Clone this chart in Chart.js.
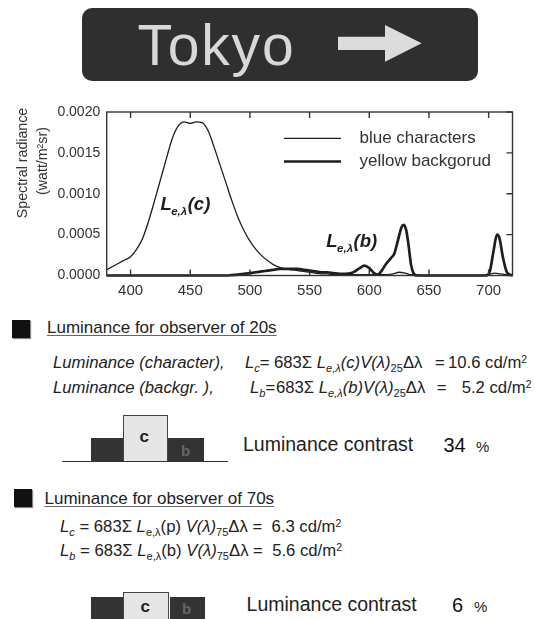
<!DOCTYPE html>
<html>
<head>
<meta charset="utf-8">
<script src="https://cdn.jsdelivr.net/npm/chart.js@4.4.1/dist/chart.umd.min.js"></script>
<style>
  html, body { margin: 0; padding: 0; background: #fff; }
  body { width: 535px; height: 619px; position: relative; overflow: hidden;
         font-family: Arial, "Liberation Sans", Helvetica, sans-serif; color: #222; }
  .abs { position: absolute; white-space: nowrap; line-height: 1; }
  #chartBox { position: absolute; left: 0; top: 0; width: 535px; height: 310px; }
  .sign { position: absolute; left: 82px; top: 8px; width: 396px; height: 73px;
          border-radius: 10px; background: #2f2f2f; }
  .sign-text { font-size: 57px; letter-spacing: 1.8px; color: #d8d8d8; left: 137.5px; top: 16.7px; }
  .bullet { position: absolute; width: 18px; height: 18px; background: #111;
            box-shadow: 1px 1px 1px #888; }
  .head { font-size: 17px; text-decoration: underline; text-decoration-color: #666;
          text-underline-offset: 2px; text-decoration-thickness: 1px; }
  .f { font-size: 16.7px; }
  sub { font-size: 0.66em; vertical-align: -0.35em; line-height: 0; }
  sup { font-size: 0.62em; vertical-align: 0.5em; line-height: 0; }
  .contrast { font-size: 19.5px; }
  .num { font-size: 20px; color: #111; }
  .pct { font-size: 15px; }
  .box { position: absolute; box-sizing: border-box; }
  .dark { background: #333; }
  .light { background: #e6e6e6; border: 1.5px solid #444; }
  .base { position: absolute; height: 0; border-top: 1.5px solid #333; }
  .lc { font-size: 17px; font-weight: bold; color: #222; }
  .lb { font-size: 15px; font-weight: bold; color: #666; }
</style>
</head>
<body>

<div id="chartBox"><canvas id="spectrum" width="535" height="310"></canvas></div>

<!-- direction sign -->
<div class="sign"></div>
<div class="abs sign-text">Tokyo</div>
<svg class="abs" style="left:0;top:0" width="535" height="90">
  <polygon points="338,36.7 385,36.7 385,25 421.7,43.3 385,61.7 385,50 338,50" fill="#dcdcdc"/>
</svg>

<!-- observer of 20s -->
<div class="bullet" style="left:12px;top:320px"></div>
<div class="abs head" style="left:47px;top:318.6px">Luminance for observer of 20s</div>

<div class="abs f" style="left:53px;top:354.9px"><i>Luminance (character),</i></div>
<div class="abs f" style="left:245px;top:354.9px"><i>L</i><sub><i>c</i></sub>=</div>
<div class="abs f" style="left:274px;top:354.9px">683Σ <i>L</i><sub><i>e,λ</i></sub><i>(c)V(λ)</i><sub>25</sub>Δλ</div>
<div class="abs f" style="left:435px;top:354.9px">=</div>
<div class="abs f" style="left:448px;top:354.9px">10.6 cd/m<sup>2</sup></div>

<div class="abs f" style="left:53px;top:379.9px"><i>Luminance (backgr. ),</i></div>
<div class="abs f" style="left:250px;top:379.9px"><i>L</i><sub><i>b</i></sub>=</div>
<div class="abs f" style="left:276px;top:379.9px">683Σ <i>L</i><sub><i>e,λ</i></sub><i>(b)V(λ)</i><sub>25</sub>Δλ</div>
<div class="abs f" style="left:436.7px;top:379.9px">=</div>
<div class="abs f" style="left:461.7px;top:379.9px">5.2 cd/m<sup>2</sup></div>

<div class="box dark" style="left:90.7px;top:437.7px;width:32px;height:24px"></div>
<div class="box dark" style="left:168.3px;top:437.7px;width:36px;height:24px"></div>
<div class="box light" style="left:122.7px;top:415px;width:45.6px;height:47px"></div>
<div class="base" style="left:61.7px;top:461px;width:166.3px"></div>
<div class="abs lc" style="left:139.5px;top:428px">c</div>
<div class="abs lb" style="left:181px;top:443px">b</div>

<div class="abs contrast" style="left:243px;top:435.2px">Luminance contrast</div>
<div class="abs num" style="left:443.5px;top:434.8px">34</div>
<div class="abs pct" style="left:476px;top:439px">%</div>

<!-- observer of 70s -->
<div class="bullet" style="left:13.7px;top:488.5px"></div>
<div class="abs head" style="left:44.5px;top:489.6px">Luminance for observer of 70s</div>

<div class="abs f" style="left:60px;top:518.9px"><i>L</i><sub><i>c</i></sub> = 683Σ <i>L</i><sub>e,λ</sub>(p) <i>V(λ)</i><sub>75</sub>Δλ = &nbsp;6.3 cd/m<sup>2</sup></div>
<div class="abs f" style="left:60px;top:542.9px"><i>L</i><sub><i>b</i></sub> = 683Σ <i>L</i><sub>e,λ</sub>(b) <i>V(λ)</i><sub>75</sub>Δλ = &nbsp;5.6 cd/m<sup>2</sup></div>

<div class="box dark" style="left:90.8px;top:596.7px;width:32.5px;height:30px"></div>
<div class="box dark" style="left:169.5px;top:596.7px;width:35.3px;height:30px"></div>
<div class="box light" style="left:123.3px;top:591.7px;width:46.2px;height:35px"></div>
<div class="abs lc" style="left:140.5px;top:598px">c</div>
<div class="abs lb" style="left:182px;top:601px">b</div>

<div class="abs contrast" style="left:246.6px;top:595.2px">Luminance contrast</div>
<div class="abs num" style="left:452px;top:594.8px">6</div>
<div class="abs pct" style="left:474px;top:599px">%</div>

<script>
// Wavelength grid (nm) and spectral radiance (W/m²·sr·nm) of the blue characters
const blueWavelengths = [
  380, 385, 390, 395, 400, 405, 410, 415, 420, 425, 430, 435, 440, 445, 450, 455, 460,
  465, 470, 475, 480, 485, 490, 495, 500, 505, 510, 515, 520, 525, 530, 535, 540, 545,
  550, 555, 560, 565, 570, 575, 580, 585, 590, 595, 600, 605, 610, 615, 620, 625, 630,
  635, 640, 645, 650, 655, 660, 665, 670, 675, 680, 685, 690, 695, 700, 705, 710, 715, 720
];
const blueRadiance = [
  0.00007, 0.00011, 0.00015, 0.00019, 0.00023, 0.00032, 0.00045, 0.00066, 0.00091, 0.00117,
  0.00143, 0.00168, 0.00183, 0.00188, 0.00186, 0.00188, 0.00187, 0.00177, 0.00157, 0.00135,
  0.00113, 0.00091, 0.00071, 0.00055, 0.00042, 0.00032, 0.00024, 0.00018, 0.00013, 0.00010,
  0.00008, 0.00007, 0.00006, 0.00005, 0.00004, 0.00003, 0.00002, 0.00002, 0.00001, 0.00001,
  0.00001, 0.00001, 0.00001, 0.00001, 0.00001, 0.00001, 0.00001, 0.00001, 0.00002, 0.00004,
  0.00003, 0.00001, 0.00001, 0, 0, 0, 0, 0, 0, 0,
  0, 0, 0, 0, 0.00001, 0.00003, 0.00002, 0.00001, 0
];

// Spectral radiance of the yellow background (denser sampling around the emission lines)
const yellowWavelengths = [
  380, 480, 485, 490, 495, 500, 505, 510, 515, 520, 525, 530, 535, 540, 545, 550, 555, 560,
  565, 570, 575, 580, 585, 588, 592, 596, 600, 604, 607, 610, 614, 618, 621, 624, 627, 629,
  631, 633, 635, 637, 640, 698, 701, 704, 707, 709, 712, 715, 718, 720
];
const yellowRadiance = [
  0, 0, 0.000005, 0.00001, 0.00002, 0.00003, 0.00004, 0.00005, 0.00006, 0.00007, 0.00008,
  0.00008, 0.00008, 0.00008, 0.00007, 0.00006, 0.00005, 0.00004, 0.00004, 0.00003, 0.00002,
  0.00002, 0.00003, 0.00005, 0.00009, 0.00012, 0.00009, 0.00003, 0.00001, 0.00005, 0.00014,
  0.00021, 0.00027, 0.00043, 0.00059, 0.00062, 0.00055, 0.00036, 0.00013, 0.00003, 0,
  0, 0.00005, 0.00029, 0.00050, 0.00046, 0.00022, 0.00005, 0.00001, 0
];

const seriesLabels = ['blue characters', 'yellow backgorud'];
const xTickValues = [400, 450, 500, 550, 600, 650, 700];
const yTickValues = [0, 0.0005, 0.0010, 0.0015, 0.0020];
const yTitleLines = ['Spectral radiance', '(watt/m\u00B2sr)'];

// curve labels: main text, subscript, trailing text, anchored at (nm, radiance)
const curveLabels = [
  { main: 'L', sub: 'e,\u03BB', tail: '(c)', x: 425, y: 0.00080 },
  { main: 'L', sub: 'e,\u03BB', tail: '(b)', x: 564, y: 0.00035 }
];

const toPoints = (xs, ys) => xs.map((x, i) => ({ x, y: ys[i] }));
const FONT = 'Arial, "Liberation Sans", Helvetica, sans-serif';
const INK = '#1e1e1e';

// box around the plot with inward ticks on top, bottom and right
const framePlugin = {
  id: 'frame',
  afterDatasetsDraw(chart) {
    const { ctx, chartArea: a, scales: { x, y } } = chart;
    ctx.save();
    ctx.strokeStyle = '#333';
    ctx.lineWidth = 1.4;
    ctx.strokeRect(a.left, a.top, a.right - a.left, a.bottom - a.top);
    ctx.beginPath();
    x.ticks.forEach(t => {
      const px = x.getPixelForValue(t.value);
      ctx.moveTo(px, a.bottom); ctx.lineTo(px, a.bottom - 6);
      ctx.moveTo(px, a.top); ctx.lineTo(px, a.top + 6);
    });
    y.ticks.forEach(t => {
      const py = y.getPixelForValue(t.value);
      ctx.moveTo(a.right, py); ctx.lineTo(a.right - 6, py);
    });
    ctx.stroke();
    ctx.restore();
  }
};

// legend inside the plot, upper right
const insideLegend = {
  id: 'insideLegend',
  afterDraw(chart) {
    const { ctx } = chart;
    const rows = [138.3, 161.5];
    ctx.save();
    chart.data.datasets.forEach((ds, i) => {
      ctx.strokeStyle = ds.borderColor;
      ctx.lineWidth = ds.borderWidth;
      ctx.beginPath();
      ctx.moveTo(284, rows[i]);
      ctx.lineTo(341, rows[i]);
      ctx.stroke();
      ctx.fillStyle = '#333';
      ctx.font = '17px ' + FONT;
      ctx.textBaseline = 'middle';
      ctx.fillText(ds.label, 359.5, rows[i]);
    });
    ctx.restore();
  }
};

// rotated two-line title of the radiance axis
const yTitlePlugin = {
  id: 'yTitle',
  afterDraw(chart) {
    const { ctx } = chart;
    const centers = [[23.3, 163], [42.7, 161]];
    ctx.save();
    ctx.fillStyle = '#333';
    ctx.font = '14.2px ' + FONT;
    ctx.textAlign = 'center';
    ctx.textBaseline = 'middle';
    yTitleLines.forEach((line, i) => {
      ctx.save();
      ctx.translate(centers[i][0], centers[i][1]);
      ctx.rotate(-Math.PI / 2);
      ctx.fillText(line, 0, 0);
      ctx.restore();
    });
    ctx.restore();
  }
};

// L_{e,λ}(c) / L_{e,λ}(b) labels next to the curves
const curveLabelPlugin = {
  id: 'curveLabels',
  afterDraw(chart) {
    const { ctx, scales: { x, y } } = chart;
    ctx.save();
    ctx.fillStyle = INK;
    ctx.textBaseline = 'alphabetic';
    curveLabels.forEach(l => {
      let px = x.getPixelForValue(l.x);
      const py = y.getPixelForValue(l.y);
      ctx.font = 'italic bold 18.5px ' + FONT;
      ctx.fillText(l.main, px, py);
      px += ctx.measureText(l.main).width - 0.5;
      ctx.font = 'italic bold 11.5px ' + FONT;
      ctx.fillText(l.sub, px, py + 5);
      px += ctx.measureText(l.sub).width + 0.5;
      ctx.font = 'italic bold 18.5px ' + FONT;
      ctx.fillText(l.tail, px, py);
    });
    ctx.restore();
  }
};

new Chart(document.getElementById('spectrum'), {
  type: 'line',
  data: {
    datasets: [
      {
        label: seriesLabels[0],
        data: toPoints(blueWavelengths, blueRadiance),
        borderColor: INK, borderWidth: 1.3,
        pointRadius: 0, fill: false, cubicInterpolationMode: 'monotone', clip: 3
      },
      {
        label: seriesLabels[1],
        data: toPoints(yellowWavelengths, yellowRadiance),
        borderColor: INK, borderWidth: 2.7,
        pointRadius: 0, fill: false, cubicInterpolationMode: 'monotone', clip: 3
      }
    ]
  },
  options: {
    responsive: false,
    animation: false,
    devicePixelRatio: 1,
    layout: { padding: { top: 112, right: 22.5, bottom: 4.5, left: 0 } },
    plugins: { legend: { display: false }, tooltip: { enabled: false } },
    scales: {
      x: {
        type: 'linear', min: 380, max: 720,
        afterBuildTicks: s => { s.ticks = xTickValues.map(v => ({ value: v })); },
        afterFit: s => { s.height = 30; },
        grid: { display: false, drawTicks: false },
        border: { display: false },
        ticks: { color: '#333', padding: 6, font: { family: FONT, size: 15 }, maxRotation: 0,
                 callback: v => String(v) }
      },
      y: {
        type: 'linear', min: 0, max: 0.002,
        afterBuildTicks: s => { s.ticks = yTickValues.map(v => ({ value: v })); },
        afterFit: s => { s.width = 106.7; },
        grid: { display: false, drawTicks: false },
        border: { display: false },
        ticks: { color: '#333', padding: 6.5, font: { family: FONT, size: 14 },
                 callback: v => Number(v).toFixed(4) }
      }
    }
  },
  plugins: [framePlugin, insideLegend, yTitlePlugin, curveLabelPlugin]
});
</script>
</body>
</html>
